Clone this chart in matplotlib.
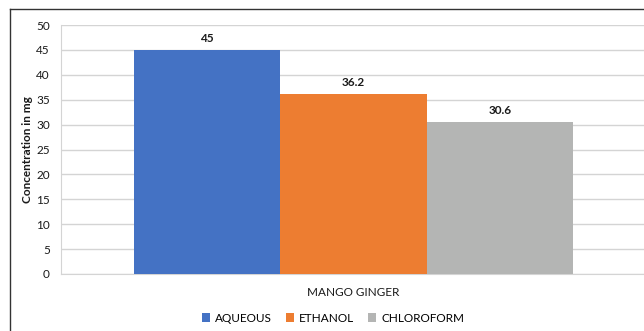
import matplotlib
matplotlib.use("Agg")
import matplotlib.pyplot as plt
from matplotlib.lines import Line2D
from matplotlib.patches import Patch

plt.rcParams['font.family'] = ['Lato', 'DejaVu Sans']

category = "MANGO GINGER"
series = ["AQUEOUS", "ETHANOL", "CHLOROFORM"]
values = [45, 36.2, 30.6]
value_labels = ["45", "36.2", "30.6"]
colors = ["#4472C4", "#ED7D31", "#B4B5B4"]
yticks = [0, 5, 10, 15, 20, 25, 30, 35, 40, 45, 50]

FS = 8.5
TC = '#1a1a1a'

fig = plt.figure(figsize=(6.44, 3.31), dpi=100)
ax = fig.add_axes([61/644, 1-274/331, (646-61)/644, (274-25)/331])

bw = 0.25
offsets = [-bw, 0, bw]
for s, v, c, o, lab in zip(series, values, colors, offsets, value_labels):
    ax.bar(o, v, width=bw, color=c, label=s, zorder=3)
    ax.text(o, v + 1.2, lab, ha='center', va='bottom', fontsize=FS,
            fontweight='bold', color=TC)

ax.set_xlim(-0.5, 0.5)
ax.set_ylim(0, 50)
ax.set_yticks(yticks)
ax.set_yticklabels([str(t) for t in yticks], fontsize=FS, color=TC)
ax.set_xticks([0])
ax.set_xticklabels([category], fontsize=FS, color=TC)
ax.tick_params(axis='y', length=0, pad=8)
ax.tick_params(axis='x', length=0, pad=9)
ax.grid(axis='y', color='#D4D4D4', linewidth=1, zorder=0)
for sp in ['top', 'right']:
    ax.spines[sp].set_visible(False)
ax.spines['bottom'].set_color('#D4D4D4')
ax.spines['left'].set_color('#D4D4D4')
ax.set_ylabel("Concentration in mg", fontsize=FS, fontweight='bold',
              color=TC, labelpad=2)

handles = [Patch(facecolor=c, edgecolor='none') for c in colors]
fig.legend(handles, series, loc='center', bbox_to_anchor=(333/644, 1-318/331),
           ncol=3, frameon=False, fontsize=FS, handlelength=0.7,
           handleheight=0.7, handletextpad=0.4, columnspacing=1.2)

# outer chart border (top and left visible)
fig.add_artist(Line2D([10/644, 10/644], [0, 1-9/331], transform=fig.transFigure,
                      color='#333333', linewidth=1))
fig.add_artist(Line2D([10/644, 1], [1-9/331, 1-9/331], transform=fig.transFigure,
                      color='#333333', linewidth=1))

fig.savefig("out.png", dpi=100)
